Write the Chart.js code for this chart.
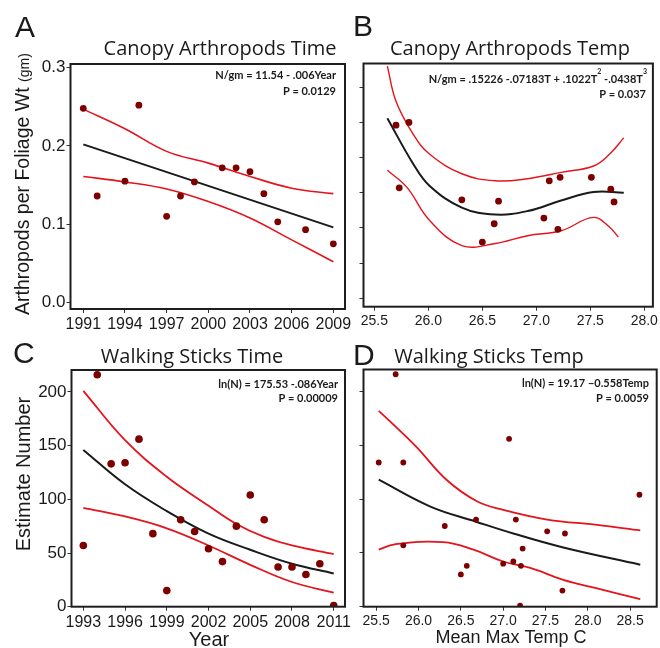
<!DOCTYPE html>
<html>
<head>
<meta charset="utf-8">
<title>Arthropods and Walking Sticks</title>
<script src="https://cdn.jsdelivr.net/npm/chart.js@4.4.1/dist/chart.umd.min.js"></script>
<style>
    html, body { margin: 0; padding: 0; background: #ffffff; }
    #wrap { position: relative; width: 660px; height: 648px; overflow: hidden; }
    #wrap canvas { position: absolute; left: 0; top: 0; }
</style>
</head>
<body>
<div id="wrap">
    <canvas id="panel-a" width="660" height="648"></canvas>
    <canvas id="panel-b" width="660" height="648"></canvas>
    <canvas id="panel-c" width="660" height="648"></canvas>
    <canvas id="panel-d" width="660" height="648"></canvas>
</div>
<script>
// ---- Panel A: canopy arthropods vs year ----
const yearsA = [1991, 1992, 1994, 1995, 1997, 1998, 1999, 2001, 2002, 2003, 2004, 2005, 2007, 2009];
const densityA = [0.248, 0.136, 0.155, 0.252, 0.110, 0.136, 0.154, 0.172, 0.172, 0.167, 0.139, 0.103, 0.093, 0.075];
const fitYearsA = [1991, 2000, 2009];
const fitA = [0.202, 0.149, 0.096];
const bandYearsA = [1991, 1994, 1997, 2000, 2003, 2006, 2009];
const upperA = [0.247, 0.222, 0.193, 0.178, 0.161, 0.146, 0.139];
const lowerA = [0.161, 0.154, 0.145, 0.129, 0.108, 0.080, 0.052];
const xTicksA = [1991, 1994, 1997, 2000, 2003, 2006, 2009];
const yTicksA = [0, 0.1, 0.2, 0.3];

// ---- Panel B: canopy arthropods vs temperature ----
const tempsB = [25.70, 25.82, 25.73, 26.31, 26.65, 26.61, 26.50, 27.12, 27.22, 27.51, 27.69, 27.72, 27.07, 27.20];
const densityB = [0.246, 0.250, 0.157, 0.140, 0.138, 0.106, 0.080, 0.167, 0.172, 0.172, 0.155, 0.137, 0.114, 0.098];
const fitTempsB = [25.62, 25.86, 26.01, 26.31, 26.62, 26.92, 27.23, 27.53, 27.81];
const fitB = [0.256, 0.191, 0.160, 0.129, 0.119, 0.124, 0.139, 0.151, 0.150];
const upperTempsB = [25.62, 25.70, 25.86, 26.01, 26.31, 26.62, 26.92, 27.23, 27.53, 27.68, 27.81];
const upperB = [0.330, 0.280, 0.233, 0.205, 0.177, 0.167, 0.170, 0.179, 0.188, 0.205, 0.228];
const lowerTempsB = [25.62, 25.80, 26.01, 26.31, 26.62, 26.92, 27.23, 27.53, 27.68, 27.76];
const lowerB = [0.182, 0.158, 0.111, 0.075, 0.078, 0.089, 0.096, 0.115, 0.101, 0.087];
const xTicksB = [25.5, 26.0, 26.5, 27.0, 27.5, 28.0];
const yTicksB = [0, 0.05, 0.10, 0.15, 0.20, 0.25, 0.30];

// ---- Panel C: walking sticks vs year ----
const yearsC = [1993, 1994, 1995, 1996, 1997, 1998, 1999, 2000, 2001, 2002, 2003, 2004, 2005, 2006, 2007, 2008, 2009, 2010, 2011];
const countsC = [57, 216, 133, 134, 156, 68, 15, 81, 70, 54, 42, 75, 104, 81, 37, 37, 30, 40, 1];
const fitYearsC = [1993, 1996, 1999, 2002, 2005, 2008, 2011];
const fitC = [146, 114, 89, 68, 53, 40, 31];
const upperYearsC = [1993, 1996, 1999, 2002, 2004, 2006, 2008, 2011];
const upperC = [201, 155, 121, 94, 77, 65, 57, 49];
const lowerYearsC = [1993, 1996, 1999, 2002, 2005, 2008, 2011];
const lowerC = [92, 84, 73, 57, 39, 23, 13];
const xTicksC = [1993, 1996, 1999, 2002, 2005, 2008, 2011];
const yTicksC = [0, 50, 100, 150, 200];

// ---- Panel D: walking sticks vs temperature ----
const tempsD = [25.53, 25.73, 25.82, 25.82, 26.31, 26.50, 26.57, 26.68, 27.00, 27.07, 27.12, 27.15, 27.21, 27.23, 27.20, 27.52, 27.70, 27.73, 28.61];
const countsD = [134, 216, 134, 57, 75, 30, 38, 81, 40, 156, 42, 81, 38, 54, 1, 70, 15, 68, 104];
const fitTempsD = [25.53, 26.14, 26.68, 27.12, 27.71, 28.62];
const fitD = [118, 93, 79, 68, 55, 39];
const upperTempsD = [25.53, 25.72, 25.98, 26.33, 26.69, 27.00, 27.52, 28.11, 28.62];
const upperD = [182, 168, 148, 118, 98, 90, 81, 76, 71];
const lowerTempsD = [25.53, 25.72, 26.29, 26.65, 27.00, 27.32, 27.71, 28.11, 28.62];
const lowerD = [53, 58, 60, 53, 42, 36, 25, 17, 7];
const xTicksD = [25.5, 26.0, 26.5, 27.0, 27.5, 28.0, 28.5];
const yTicksD = [0, 50, 100, 150, 200];

// Shared look
const W = 660, H = 648;
const X_AXIS_H = 32;
const DOT = '#7d0000';
const RED = '#e3141c';
const BLACK = '#1a1a1a';
const SANS = '"Liberation Sans", Arial, sans-serif';
const TITLE_FONT = '20px "Open Sans", sans-serif';
const LETTER_FONT = '30px ' + SANS;
const EQ_FONT = 'bold 11px Lato, sans-serif';
const SUP_FONT = 'bold 7px Lato, sans-serif';

function pairs(xs, ys) {
    return xs.map((x, i) => ({ x: x, y: ys[i] }));
}

function pointSet(xs, ys, radius) {
    return {
        data: pairs(xs, ys),
        pointRadius: radius,
        pointBackgroundColor: DOT,
        pointBorderWidth: 0,
        showLine: false
    };
}

function curveSet(xs, ys, color, width) {
    return {
        data: pairs(xs, ys),
        showLine: true,
        borderColor: color,
        borderWidth: width,
        pointRadius: 0,
        tension: 0.4,
        fill: false,
        clip: 0
    };
}

function makeScale(isX, frame, range, tickValues, fontSize, showLabels, format) {
    return {
        type: 'linear',
        position: isX ? 'bottom' : 'left',
        min: range[0],
        max: range[1],
        afterBuildTicks: function(axis) {
            axis.ticks = tickValues.map(v => ({ value: v }));
        },
        afterFit: function(axis) {
            if (isX) axis.height = X_AXIS_H;
            else axis.width = frame.left;
        },
        grid: {
            display: true,
            drawOnChartArea: false,
            drawTicks: true,
            tickLength: 4,
            tickColor: '#333333',
            color: '#333333'
        },
        border: { display: false },
        ticks: {
            display: showLabels,
            padding: isX ? 2 : 1,
            color: '#1a1a1a',
            autoSkip: false,
            maxRotation: 0,
            font: { family: SANS, size: fontSize },
            callback: function(value) { return format(value); }
        }
    };
}

// Draws a text made of runs (for superscripts and mixed sizes)
function drawRuns(ctx, t) {
    ctx.save();
    ctx.fillStyle = t.color || '#1a1a1a';
    ctx.textBaseline = 'alphabetic';
    ctx.textAlign = 'left';
    let total = 0;
    t.runs.forEach(r => { ctx.font = r.font; total += ctx.measureText(r.text).width; });
    ctx.translate(t.x, t.y);
    if (t.rotate) ctx.rotate(-Math.PI / 2);
    let x = 0;
    if (t.align === 'center') x = -total / 2;
    if (t.align === 'right') x = -total;
    t.runs.forEach(r => {
        ctx.font = r.font;
        ctx.fillText(r.text, x, r.dy || 0);
        x += ctx.measureText(r.text).width;
    });
    ctx.restore();
}

const panelDecor = {
    id: 'panelDecor',
    afterDraw: function(chart, args, opts) {
        const ctx = chart.ctx;
        const a = chart.chartArea;
        ctx.save();
        ctx.strokeStyle = '#1e1e1e';
        ctx.lineWidth = 2;
        ctx.strokeRect(a.left, a.top, a.right - a.left, a.bottom - a.top);
        ctx.restore();
        (opts.texts || []).forEach(t => drawRuns(ctx, t));
    }
};

function buildPanel(canvasId, frame, xScale, yScale, datasets, texts) {
    const canvas = document.getElementById(canvasId);
    if (!canvas) {
        console.error('Cannot find canvas ' + canvasId);
        return;
    }
    new Chart(canvas.getContext('2d'), {
        type: 'scatter',
        data: { datasets: datasets },
        options: {
            responsive: false,
            animation: false,
            events: [],
            layout: {
                autoPadding: false,
                padding: {
                    left: 0,
                    top: frame.top,
                    right: W - frame.right,
                    bottom: H - frame.bottom - X_AXIS_H
                }
            },
            scales: { x: xScale, y: yScale },
            plugins: {
                legend: { display: false },
                tooltip: { enabled: false },
                panelDecor: { texts: texts }
            }
        },
        plugins: [panelDecor]
    });
}

const oneDecimal = v => v.toFixed(1);
const whole = v => String(Math.round(v));

// Panel A
const frameA = { left: 70.5, top: 64, right: 345, bottom: 309 };
buildPanel('panel-a', frameA,
    makeScale(true, frameA, [1990.08, 2009.84], xTicksA, 16, true, whole),
    makeScale(false, frameA, [-0.0083, 0.3046], yTicksA, 17, true, oneDecimal),
    [
        pointSet(yearsA, densityA, 3.4),
        curveSet(fitYearsA, fitA, BLACK, 2),
        curveSet(bandYearsA, upperA, RED, 1.6),
        curveSet(bandYearsA, lowerA, RED, 1.6)
    ],
    [
        { x: 15, y: 37, runs: [{ text: 'A', font: LETTER_FONT }] },
        { x: 220, y: 55, align: 'center', runs: [{ text: 'Canopy Arthropods Time', font: TITLE_FONT }] },
        { x: 336, y: 79, align: 'right', runs: [{ text: 'N/gm = 11.54 - .006Year', font: EQ_FONT }] },
        { x: 336, y: 95, align: 'right', runs: [{ text: 'P = 0.0129', font: EQ_FONT }] },
        { x: 29, y: 315, rotate: true, runs: [
            { text: 'Arthropods per Foliage Wt ', font: '19.5px ' + SANS },
            { text: '(gm)', font: '14px ' + SANS }
        ] }
    ]);

// Panel B
const frameB = { left: 363.5, top: 63.5, right: 656, bottom: 306.7 };
buildPanel('panel-b', frameB,
    makeScale(true, frameB, [25.399, 28.08], xTicksB, 14, true, oneDecimal),
    makeScale(false, frameB, [-0.0119, 0.3337], yTicksB, 14, false, oneDecimal),
    [
        pointSet(tempsB, densityB, 3.4),
        curveSet(fitTempsB, fitB, BLACK, 2),
        curveSet(upperTempsB, upperB, RED, 1.4),
        curveSet(lowerTempsB, lowerB, RED, 1.4)
    ],
    [
        { x: 353, y: 36, runs: [{ text: 'B', font: LETTER_FONT }] },
        { x: 510, y: 55, align: 'center', runs: [{ text: 'Canopy Arthropods Temp', font: TITLE_FONT }] },
        { x: 647, y: 83, align: 'right', runs: [
            { text: 'N/gm = .15226 -.07183T + .1022T', font: EQ_FONT },
            { text: '2', font: SUP_FONT, dy: -9 },
            { text: ' -.0438T', font: EQ_FONT },
            { text: '3', font: SUP_FONT, dy: -9 }
        ] },
        { x: 646, y: 98, align: 'right', runs: [{ text: 'P = 0.037', font: EQ_FONT }] }
    ]);

// Panel C
const frameC = { left: 71.5, top: 370, right: 345, bottom: 606.7 };
buildPanel('panel-c', frameC,
    makeScale(true, frameC, [1992.15, 2011.81], xTicksC, 16, true, whole),
    makeScale(false, frameC, [0, 220.4], yTicksC, 17, true, whole),
    [
        pointSet(yearsC, countsC, 3.8),
        curveSet(fitYearsC, fitC, BLACK, 2),
        curveSet(upperYearsC, upperC, RED, 1.8),
        curveSet(lowerYearsC, lowerC, RED, 1.8)
    ],
    [
        { x: 13, y: 363, runs: [{ text: 'C', font: LETTER_FONT }] },
        { x: 192, y: 363, align: 'center', runs: [{ text: 'Walking Sticks Time', font: TITLE_FONT }] },
        { x: 338, y: 388, align: 'right', runs: [{ text: 'ln(N) = 175.53 -.086Year', font: EQ_FONT }] },
        { x: 338, y: 402, align: 'right', runs: [{ text: 'P = 0.00009', font: EQ_FONT }] },
        { x: 30, y: 474, rotate: true, align: 'center', runs: [{ text: 'Estimate Number', font: '20px ' + SANS }] },
        { x: 209, y: 646, align: 'center', runs: [{ text: 'Year', font: '20px ' + SANS }] }
    ]);

// Panel D
const frameD = { left: 363.5, top: 369.5, right: 656.7, bottom: 606.7 };
buildPanel('panel-d', frameD,
    makeScale(true, frameD, [25.35, 28.814], xTicksD, 14, true, oneDecimal),
    makeScale(false, frameD, [0, 220.4], yTicksD, 14, false, whole),
    [
        pointSet(tempsD, countsD, 2.9),
        curveSet(fitTempsD, fitD, BLACK, 2),
        curveSet(upperTempsD, upperD, RED, 1.8),
        curveSet(lowerTempsD, lowerD, RED, 1.8)
    ],
    [
        { x: 353, y: 365, runs: [{ text: 'D', font: LETTER_FONT }] },
        { x: 489, y: 363, align: 'center', runs: [{ text: 'Walking Sticks Temp', font: TITLE_FONT }] },
        { x: 649, y: 386.5, align: 'right', runs: [{ text: 'ln(N) = 19.17 \u22120.558Temp', font: EQ_FONT }] },
        { x: 649, y: 401.5, align: 'right', runs: [{ text: 'P = 0.0059', font: EQ_FONT }] },
        { x: 511, y: 643, align: 'center', runs: [{ text: 'Mean Max Temp C', font: '18px ' + SANS }] }
    ]);
</script>
</body>
</html>
